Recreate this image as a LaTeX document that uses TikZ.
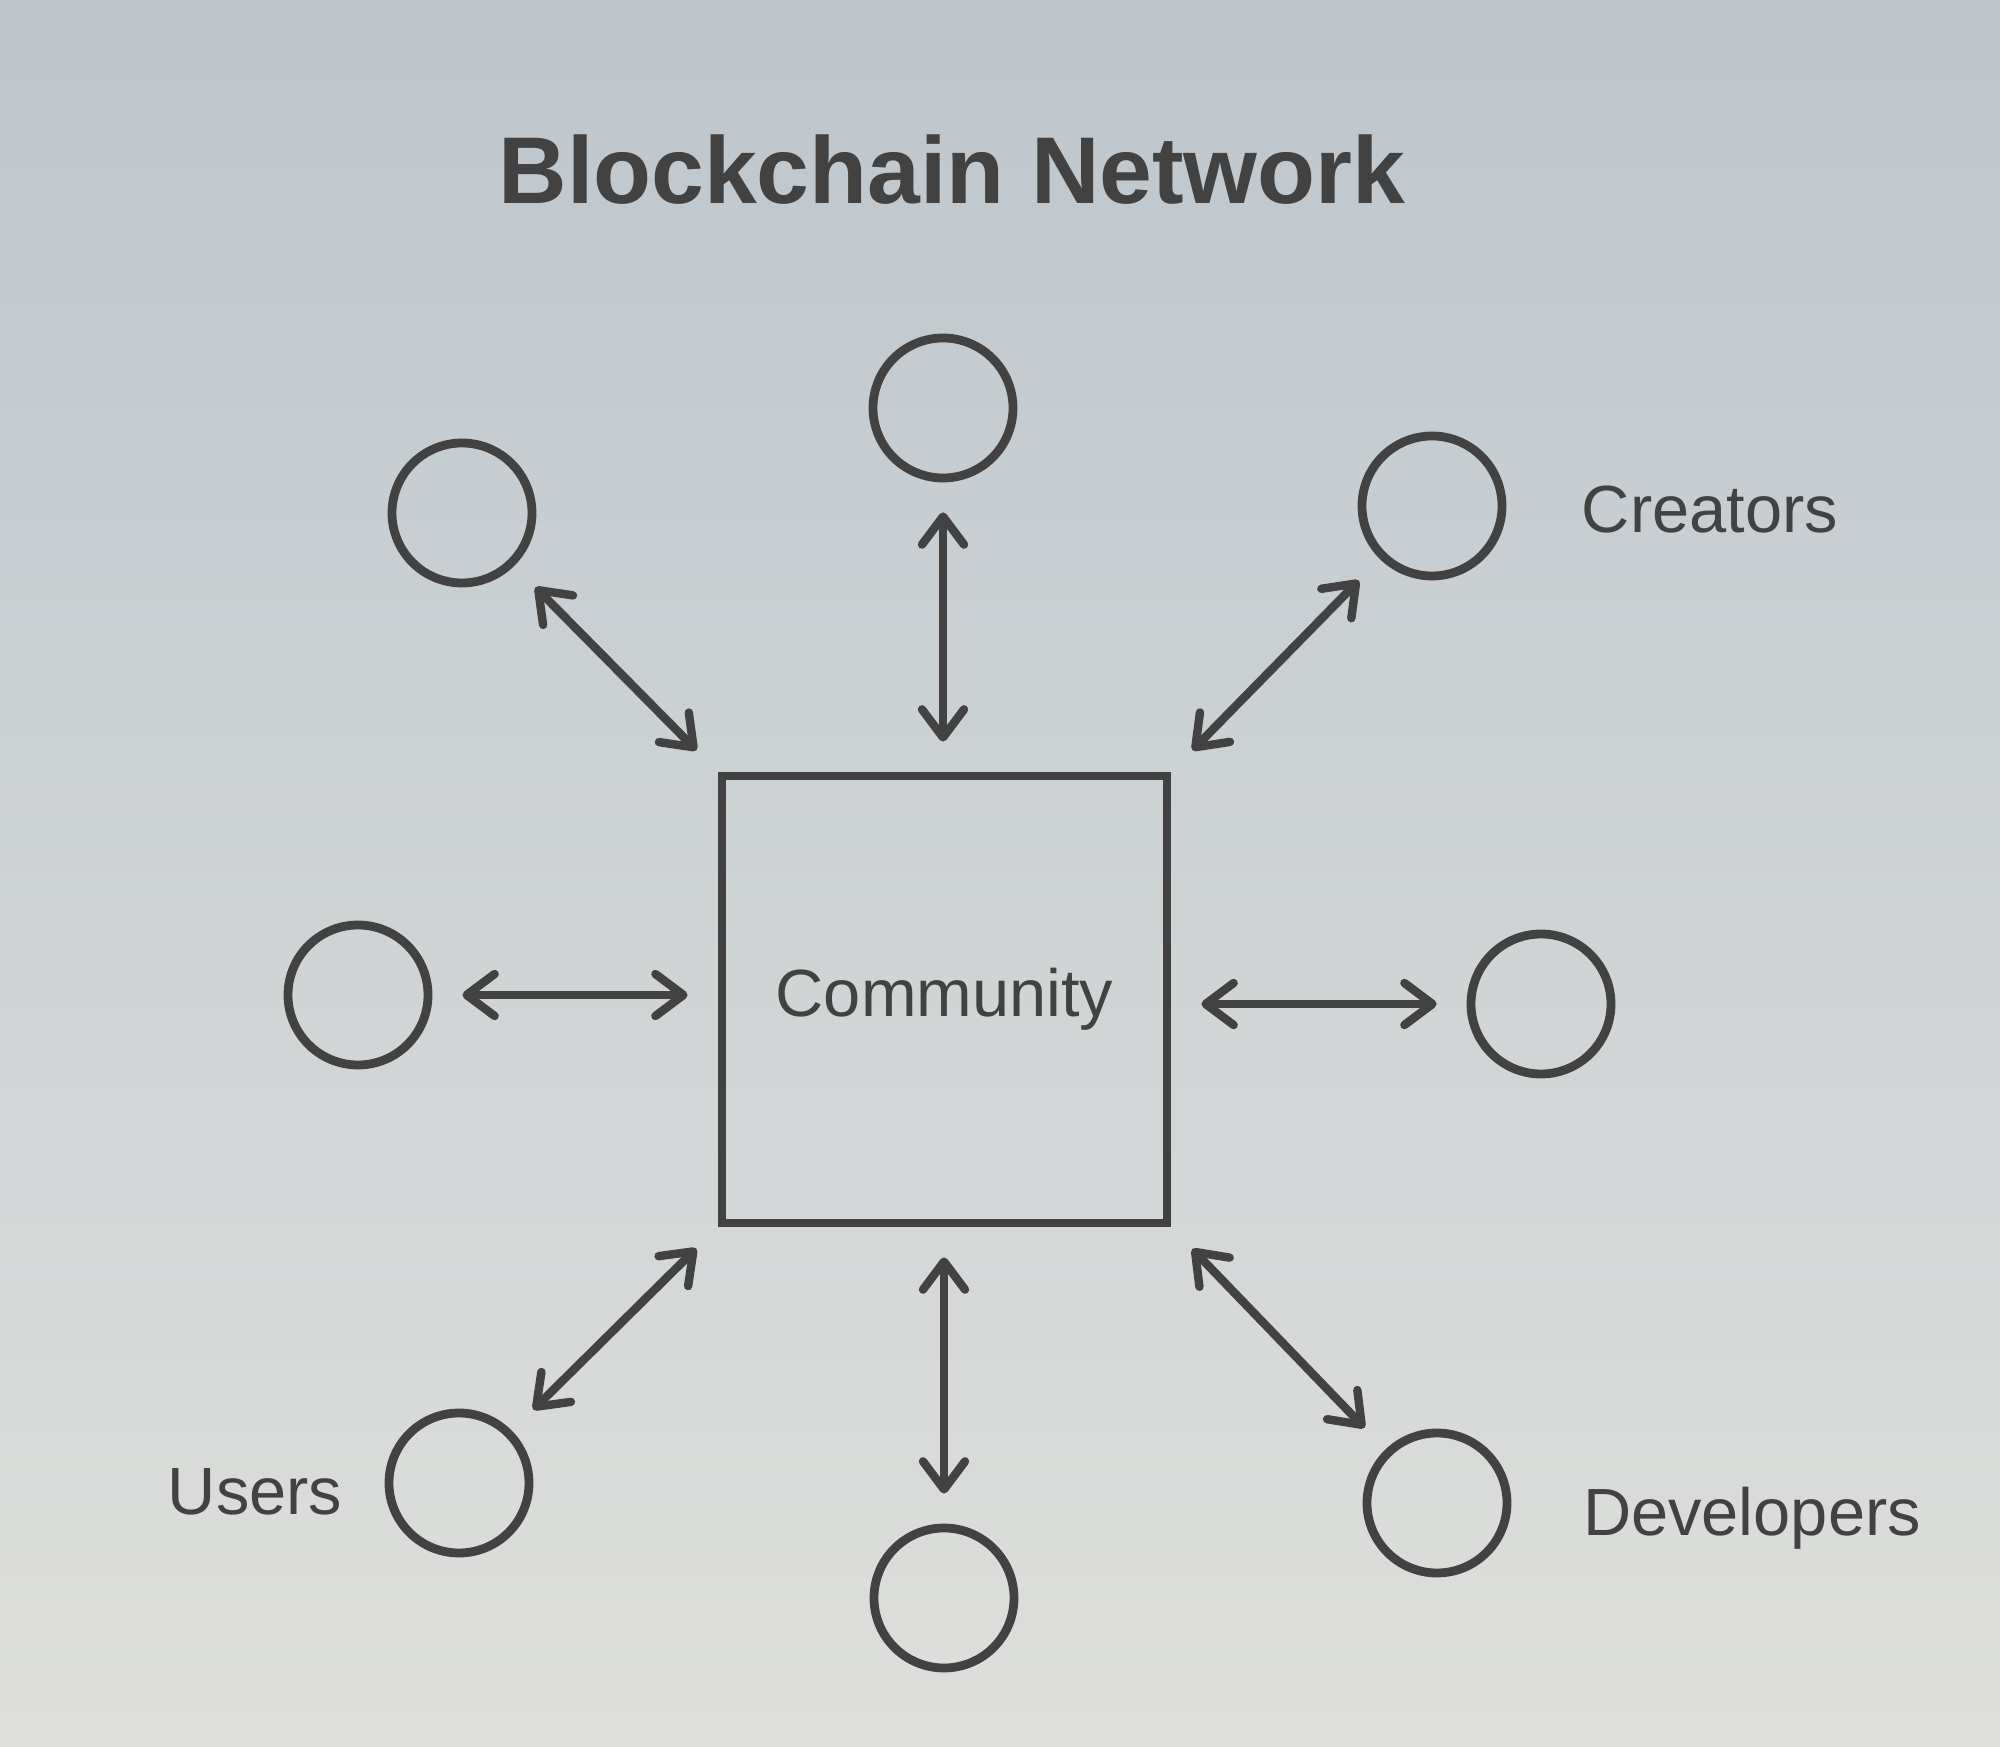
\documentclass[tikz,border=0pt]{standalone}
\usepackage{fontspec}
\setmainfont{Liberation Sans}
\usetikzlibrary{arrows.meta}
\definecolor{inkgray}{RGB}{66,66,66}
\definecolor{pagetop}{RGB}{190,198,204}
\definecolor{pagebot}{RGB}{222,223,220}
\tikzset{member/.style={draw=inkgray,line width=2.5pt,circle,minimum size=1.40cm,inner sep=0pt},
 hubbox/.style={draw=inkgray,line width=2.5pt,minimum width=4.45cm,minimum height=4.47cm,inner sep=0pt,font=\fontsize{19}{22}\selectfont,text=inkgray},
 link/.style={draw=inkgray,line width=2.4pt,line cap=round,{Straight Barb[length=2.8mm,width=4.2mm,round]}-{Straight Barb[length=2.8mm,width=4.2mm,round]},shorten <=0.3cm,shorten >=0.3cm},
 tag/.style={font=\fontsize{19}{22}\selectfont,text=inkgray,inner sep=0pt}}

\begin{document}
\begin{tikzpicture}
\fill[top color=pagetop,bottom color=pagebot] (0,0) rectangle (20,17.46);
\useasboundingbox (0,0) rectangle (20,17.46);
% title
\node[font=\fontsize{27}{32}\bfseries\selectfont,text=inkgray] (title) at (9.52,15.76) {Blockchain Network};
% hub and members
\node[hubbox] (hub) at (9.445,7.465) {Community};
\node[member] (top) at (9.43,13.38) {};
\node[member] (tl) at (4.62,12.33) {};
\node[member] (tr) at (14.32,12.40) {};
\node[member] (lft) at (3.58,7.51) {};
\node[member] (rgt) at (15.41,7.42) {};
\node[member] (bl) at (4.59,2.63) {};
\node[member] (bot) at (9.44,1.48) {};
\node[member] (br) at (14.37,2.43) {};
% labels
\node[tag] (creators) at (17.10,12.36) {Creators};
\node[tag] (users) at (2.55,2.54) {Users};
\node[tag] (devs) at (17.52,2.28) {Developers};
% links
\draw[link] (top) -- (top |- hub.north);
\draw[link] (tl) -- (hub.north west);
\draw[link] (tr) -- (hub.north east);
\draw[link] (lft) -- (lft -| hub.west);
\draw[link] (rgt) -- (rgt -| hub.east);
\draw[link] (bl) -- (hub.south west);
\draw[link] (bot) -- (bot |- hub.south);
\draw[link] (br) -- (hub.south east);
\end{tikzpicture}
\end{document}
